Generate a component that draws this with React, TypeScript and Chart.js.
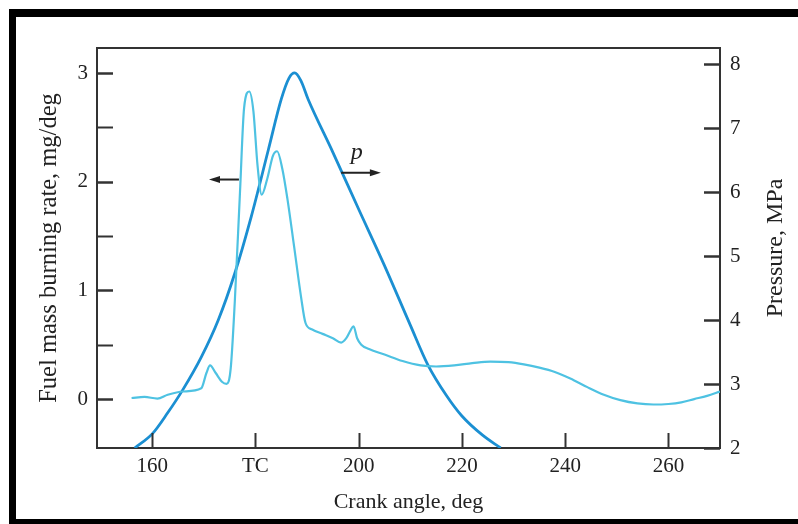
import React, { useEffect, useRef } from 'react';
import { Chart, registerables } from 'chart.js';

Chart.register(...registerables);

// Fuel mass burning rate (mg/deg) vs crank angle (deg)
const BR_DEG = [156, 158.5, 161, 163, 166, 169.5, 170.5, 171.2, 172.3, 173.5, 174.4, 175.2, 176, 177, 177.8, 178.8, 179.6, 180.4, 181.2, 182.3, 183.4, 184.2, 185.2, 186.2, 187.5, 188.8, 189.7, 191, 193, 195, 196.6, 197.6, 198.4, 199, 199.7, 200.5, 202, 205, 208.5, 212, 215, 218.5, 222, 225.5, 229, 232, 235, 238, 241, 244.3, 247.5, 250.7, 254, 257.1, 260, 262.5, 265, 267.5, 270];
const BR_VAL = [0.01, 0.02, 0.005, 0.04, 0.07, 0.1, 0.24, 0.31, 0.24, 0.16, 0.14, 0.28, 0.9, 1.9, 2.68, 2.83, 2.65, 2.15, 1.88, 2.03, 2.24, 2.28, 2.12, 1.84, 1.4, 0.95, 0.7, 0.64, 0.6, 0.56, 0.52, 0.56, 0.63, 0.67, 0.56, 0.5, 0.46, 0.41, 0.35, 0.31, 0.3, 0.31, 0.33, 0.345, 0.34, 0.32, 0.29, 0.25, 0.19, 0.11, 0.04, -0.01, -0.04, -0.05, -0.045, -0.03, 0.0, 0.03, 0.07];

// Cylinder pressure (MPa) vs crank angle (deg)
const P_DEG = [156.6, 160, 163, 166, 169.5, 172.8, 176, 179.2, 182.5, 185, 186.5, 187.6, 188.8, 190.2, 195, 200, 205, 210, 213.4, 217, 220, 224, 227.5];
const P_VAL = [2.0, 2.22, 2.55, 2.92, 3.42, 4.0, 4.73, 5.62, 6.66, 7.45, 7.78, 7.86, 7.74, 7.45, 6.62, 5.73, 4.85, 3.92, 3.3, 2.82, 2.5, 2.2, 2.0];

const X_TICKS = [160, 180, 200, 220, 240, 260];
const X_TICK_LABELS = ['160', 'TC', '200', '220', '240', '260'];
const LEFT_TICKS = [0, 0.5, 1, 1.5, 2, 2.5, 3];
const RIGHT_TICKS = [2, 3, 4, 5, 6, 7, 8];

const X_TITLE = 'Crank angle, deg';
const LEFT_TITLE = 'Fuel mass burning rate, mg/deg';
const RIGHT_TITLE = 'Pressure, MPa';

// annotation arrows in data coordinates
const LEFT_ARROW = { x1: 176.8, x2: 171.0, y: 2.02 };
const RIGHT_ARROW = { x1: 196.6, x2: 204.3, y: 6.3 };
const P_LABEL = { x: 199.6, y: 6.62, text: 'p' };

const SERIF = '"Liberation Serif", "Times New Roman", Times, serif';
const AXIS_COLOR = '#333333';
const TEXT_COLOR = '#222222';

const decorPlugin = {
  id: 'decor',
  afterDraw(chart: any) {
    const { ctx, chartArea: a, scales } = chart;
    const xs = scales.x, ys = scales.y, y1 = scales.y1;
    ctx.save();
    ctx.strokeStyle = AXIS_COLOR;
    ctx.lineWidth = 2;
    const line = (x1: number, yA: number, x2: number, yB: number) => {
      ctx.beginPath();
      ctx.moveTo(x1, yA);
      ctx.lineTo(x2, yB);
      ctx.stroke();
    };
    // top frame line
    line(a.left - 1, a.top, a.right + 1, a.top);
    // inward ticks
    X_TICKS.forEach((v) => {
      const px = Math.round(xs.getPixelForValue(v)) + 0.5;
      line(px, a.bottom, px, a.bottom - 15);
    });
    LEFT_TICKS.forEach((v) => {
      const py = Math.round(ys.getPixelForValue(v)) + 0.5;
      ctx.lineWidth = Number.isInteger(v) ? 2.5 : 2;
      line(a.left, py, a.left + 16, py);
    });
    ctx.lineWidth = 2.5;
    RIGHT_TICKS.forEach((v) => {
      const py = Math.round(y1.getPixelForValue(v)) + 0.5;
      line(a.right, py, a.right - 16, py);
    });

    // arrows
    const arrow = (x1: number, x2: number, py: number) => {
      ctx.strokeStyle = '#222';
      ctx.fillStyle = '#222';
      ctx.lineWidth = 2;
      const dir = Math.sign(x2 - x1);
      line(x1, py, x2 - dir * 6, py);
      ctx.beginPath();
      ctx.moveTo(x2, py);
      ctx.lineTo(x2 - dir * 11, py - 3.5);
      ctx.lineTo(x2 - dir * 11, py + 3.5);
      ctx.closePath();
      ctx.fill();
    };
    arrow(xs.getPixelForValue(LEFT_ARROW.x1), xs.getPixelForValue(LEFT_ARROW.x2), ys.getPixelForValue(LEFT_ARROW.y));
    arrow(xs.getPixelForValue(RIGHT_ARROW.x1), xs.getPixelForValue(RIGHT_ARROW.x2), y1.getPixelForValue(RIGHT_ARROW.y));

    ctx.fillStyle = '#222';
    ctx.font = `italic 24px ${SERIF}`;
    ctx.textAlign = 'center';
    ctx.textBaseline = 'middle';
    ctx.fillText(P_LABEL.text, xs.getPixelForValue(P_LABEL.x), y1.getPixelForValue(P_LABEL.y));

    // right axis title (reads bottom to top)
    ctx.fillStyle = TEXT_COLOR;
    ctx.font = `24px ${SERIF}`;
    ctx.translate(776, (a.top + a.bottom) / 2);
    ctx.rotate(-Math.PI / 2);
    ctx.fillText(RIGHT_TITLE, 0, 0);
    ctx.restore();
  },
};

export default function App() {
  const canvasRef = useRef<HTMLCanvasElement | null>(null);

  useEffect(() => {
    const canvas = canvasRef.current;
    if (!canvas) return;
    const chart = new Chart(canvas, {
      type: 'line',
      data: {
        datasets: [
          {
            label: 'Fuel mass burning rate',
            data: BR_DEG.map((d, i) => ({ x: d, y: BR_VAL[i] })),
            yAxisID: 'y',
            borderColor: '#4ec2e2',
            borderWidth: 2.2,
            pointRadius: 0,
            cubicInterpolationMode: 'monotone',
            fill: false,
          },
          {
            label: 'Pressure',
            data: P_DEG.map((d, i) => ({ x: d, y: P_VAL[i] })),
            yAxisID: 'y1',
            borderColor: '#1b8fd2',
            borderWidth: 2.8,
            pointRadius: 0,
            cubicInterpolationMode: 'monotone',
            fill: false,
          },
        ],
      },
      options: {
        animation: false,
        responsive: false,
        events: [],
        layout: { padding: { top: 48, left: 0, right: 0, bottom: 0 } },
        plugins: { legend: { display: false }, tooltip: { enabled: false } },
        scales: {
          x: {
            type: 'linear',
            position: 'bottom',
            min: 149.3,
            max: 270,
            afterBuildTicks: (s: any) => {
              s.ticks = X_TICKS.map((v) => ({ value: v }));
            },
            afterFit: (s: any) => {
              s.height = 76;
            },
            ticks: {
              autoSkip: false,
              maxRotation: 0,
              padding: 6,
              color: TEXT_COLOR,
              font: { family: SERIF, size: 21 },
              callback: (v: any) => {
                const i = X_TICKS.indexOf(Number(v));
                return i >= 0 ? X_TICK_LABELS[i] : '';
              },
            },
            grid: { display: true, drawOnChartArea: false, drawTicks: false },
            border: { display: true, color: AXIS_COLOR, width: 2 },
            title: {
              display: true,
              text: X_TITLE,
              color: TEXT_COLOR,
              font: { family: SERIF, size: 22 },
              padding: { top: 0, bottom: 9 },
            },
          },
          y: {
            type: 'linear',
            position: 'left',
            min: -0.45,
            max: 3.23,
            afterBuildTicks: (s: any) => {
              s.ticks = LEFT_TICKS.map((v) => ({ value: v }));
            },
            afterFit: (s: any) => {
              s.width = 97;
            },
            ticks: {
              autoSkip: false,
              padding: 9,
              color: TEXT_COLOR,
              font: { family: SERIF, size: 21 },
              callback: (v: any) => (Number.isInteger(Number(v)) ? String(v) : ''),
            },
            grid: { display: true, drawOnChartArea: false, drawTicks: false },
            border: { display: true, color: AXIS_COLOR, width: 2 },
            title: {
              display: true,
              text: LEFT_TITLE,
              color: TEXT_COLOR,
              font: { family: SERIF, size: 24.5 },
              padding: { top: 35, bottom: 0 },
            },
          },
          y1: {
            type: 'linear',
            position: 'right',
            min: 2,
            max: 8.25,
            afterBuildTicks: (s: any) => {
              s.ticks = RIGHT_TICKS.map((v) => ({ value: v }));
            },
            afterFit: (s: any) => {
              s.width = 78;
            },
            ticks: {
              autoSkip: false,
              padding: 10,
              color: TEXT_COLOR,
              font: { family: SERIF, size: 21 },
              callback: (v: any) => String(v),
            },
            grid: { display: true, drawOnChartArea: false, drawTicks: false },
            border: { display: true, color: AXIS_COLOR, width: 2 },
          },
        },
      },
      plugins: [decorPlugin],
    } as any);
    return () => chart.destroy();
  }, []);

  return (
    <div style={{ position: 'fixed', left: 0, top: 0, width: 798, height: 524, background: '#ffffff', overflow: 'hidden' }}>
      <canvas ref={canvasRef} width={798} height={524} style={{ position: 'absolute', left: 0, top: 0, width: 798, height: 524 }} />
      <div style={{ position: 'absolute', left: 9, top: 9, width: 789, height: 8, background: '#000' }} />
      <div style={{ position: 'absolute', left: 9, top: 9, width: 7, height: 515, background: '#000' }} />
      <div style={{ position: 'absolute', left: 9, top: 519, width: 789, height: 5, background: '#000' }} />
    </div>
  );
}
